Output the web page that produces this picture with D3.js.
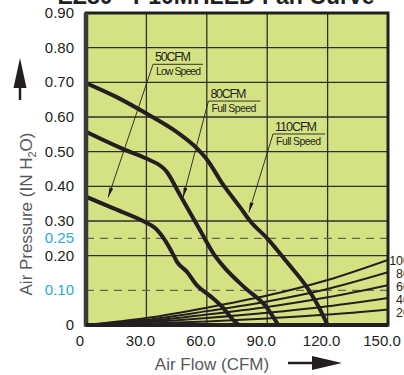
<!DOCTYPE html>
<html><head><meta charset="utf-8">
<script src="https://cdn.jsdelivr.net/npm/d3@7"></script>
<style>
html,body{margin:0;padding:0;background:#fff;overflow:hidden;}
svg{display:block;font-family:"Liberation Sans",Arial,sans-serif;}
</style></head>
<body>
<svg id="chart" width="404" height="375"></svg>
<script>
// ---- data ----
const xTicks = [0, 30, 60, 90, 120, 150];
const xTickLabels = ["0", "30.0", "60.0", "90.0", "120.0", "150.0"];
const yTicks = [0.9, 0.8, 0.7, 0.6, 0.5, 0.4, 0.3, 0.2, 0];
const yTickLabels = ["0.90", "0.80", "0.70", "0.60", "0.50", "0.40", "0.30", "0.20", "0"];
const yDashed = [0.25, 0.10];
const yDashedLabels = ["0.25", "0.10"];

const fan50Cfm = [0, 13.4, 29.3, 34.3, 39.2, 42.7, 45.2, 50.2, 55, 61.6, 68, 73, 76];
const fan50P   = [0.37, 0.337, 0.297, 0.28, 0.245, 0.21, 0.182, 0.153, 0.115, 0.084, 0.05, 0.015, 0];
const fan80Cfm = [0, 19.4, 30, 40, 46.7, 56.6, 64, 69, 79, 89, 95.5];
const fan80P   = [0.557, 0.505, 0.48, 0.443, 0.375, 0.274, 0.2, 0.164, 0.107, 0.056, 0];
const fan110Cfm = [0, 15, 30, 45, 55, 60.5, 67.5, 76.5, 81.5, 90, 100, 109.6, 114.6, 120];
const fan110P   = [0.698, 0.658, 0.61, 0.557, 0.51, 0.474, 0.41, 0.34, 0.30, 0.25, 0.18, 0.11, 0.0625, 0];

const sysCfm = [0, 30, 60, 90, 120, 150];
const sys100 = [0, 0.02, 0.05, 0.085, 0.13, 0.188];
const sys80  = [0, 0.015, 0.04, 0.068, 0.104, 0.152];
const sys60  = [0, 0.011, 0.03, 0.052, 0.08, 0.115];
const sys40  = [0, 0.008, 0.02, 0.035, 0.054, 0.078];
const sys20  = [0, 0.004, 0.01, 0.019, 0.03, 0.045];
const sysLabels = ["100", "80", "60", "40", "20"];

const fanLabels = [
  {name: "50CFM", sub: "Low Speed", cfm: fan50Cfm, p: fan50P},
  {name: "80CFM", sub: "Full Speed", cfm: fan80Cfm, p: fan80P},
  {name: "110CFM", sub: "Full Speed", cfm: fan110Cfm, p: fan110P}
];

// ---- drawing ----
const svg = d3.select("#chart");
const x = d3.scaleLinear().domain([0, 150]).range([86, 388]);
const y = d3.scaleLinear().domain([0, 0.9]).range([325, 13]);
const ink = "#231f20";

const defs = svg.append("defs");
defs.append("clipPath").attr("id", "clip").append("rect")
  .attr("x", x(0)).attr("y", y(0.9)).attr("width", x(150) - x(0)).attr("height", y(0) - y(0.9));
defs.append("marker").attr("id", "arr").attr("viewBox", "0 0 10 4")
  .attr("refX", 10).attr("refY", 2).attr("markerWidth", 10).attr("markerHeight", 4)
  .attr("markerUnits", "userSpaceOnUse").attr("orient", "auto")
  .append("path").attr("d", "M0,0 L10,2 L0,4 Z").attr("fill", ink);

// title (clipped by top edge)
svg.append("text").attr("x", 216).attr("y", 4).attr("text-anchor", "middle")
  .attr("font-size", 23).attr("font-weight", "bold").attr("fill", ink)
  .text("EZ80 - P10MHLED Fan Curve");

// background
svg.append("rect").attr("x", x(0)).attr("y", y(0.9))
  .attr("width", x(150) - x(0)).attr("height", y(0) - y(0.9)).attr("fill", "#d5e283");

// grid
const g = svg.append("g");
[30, 60, 90, 120].forEach(v => g.append("line").attr("x1", x(v)).attr("x2", x(v))
  .attr("y1", y(0.9)).attr("y2", y(0)).attr("stroke", "#2f2f2a").attr("stroke-width", 1.3));
yTicks.filter(v => v > 0 && v < 0.9).forEach(v => g.append("line").attr("x1", x(0)).attr("x2", x(150))
  .attr("y1", y(v)).attr("y2", y(v)).attr("stroke", "#2f2f2a").attr("stroke-width", 1.3));
yDashed.forEach(v => g.append("line").attr("x1", x(0)).attr("x2", x(150))
  .attr("y1", y(v)).attr("y2", y(v)).attr("stroke", "#666655").attr("stroke-width", 1.4)
  .attr("stroke-dasharray", "8,6"));

// system curves
const line = d3.line().curve(d3.curveMonotoneX);
const plot = svg.append("g").attr("clip-path", "url(#clip)");
[sys100, sys80, sys60, sys40, sys20].forEach(s => {
  plot.append("path").attr("d", line(sysCfm.map((c, i) => [x(c), y(s[i])])))
    .attr("fill", "none").attr("stroke", ink).attr("stroke-width", 2);
});
// fan curves
fanLabels.forEach(f => {
  plot.append("path").attr("d", line(f.cfm.map((c, i) => [x(c), y(f.p[i])])))
    .attr("fill", "none").attr("stroke", ink).attr("stroke-width", 4);
});

// frame
svg.append("rect").attr("x", x(0)).attr("y", y(0.9))
  .attr("width", x(150) - x(0)).attr("height", y(0) - y(0.9))
  .attr("fill", "none").attr("stroke", ink).attr("stroke-width", 3);
svg.append("line").attr("x1", x(0)).attr("x2", x(0)).attr("y1", y(0.9)).attr("y2", y(0) + 1.5)
  .attr("stroke", "#3a3a3a").attr("stroke-width", 4.5);
svg.append("line").attr("x1", x(0)).attr("x2", x(150)).attr("y1", y(0)).attr("y2", y(0))
  .attr("stroke", ink).attr("stroke-width", 4);

// annotations: label position in data coords, arrow target on curve
const annot = [
  {lx: 33.3, ly: 0.752, tx: 11, ty: 0.368},
  {lx: 60.8, ly: 0.646, tx: 48.2, ty: 0.368},
  {lx: 92.9, ly: 0.551, tx: 80.9, ty: 0.325}
];
fanLabels.forEach((f, i) => {
  const a = annot[i];
  const lx = x(a.lx), ly = y(a.ly);
  const ww = f.sub === "Low Speed" ? 50 : 52;
  svg.append("line").attr("x1", lx).attr("x2", lx + ww).attr("y1", ly).attr("y2", ly)
    .attr("stroke", ink).attr("stroke-width", 0.9);
  svg.append("line").attr("x1", lx).attr("y1", ly).attr("x2", x(a.tx)).attr("y2", y(a.ty))
    .attr("stroke", ink).attr("stroke-width", 0.9).attr("marker-end", "url(#arr)");
  svg.append("text").attr("x", lx + 2).attr("y", ly - 3).attr("font-size", 12.5)
    .attr("fill", ink).attr("textLength", f.name.length > 5 ? 42 : 36).text(f.name);
  svg.append("text").attr("x", lx + 3).attr("y", ly + 11).attr("font-size", 10.5)
    .attr("fill", ink).attr("textLength", 45).text(f.sub);
});

// system curve labels (cut by the right edge, as in the original), spaced at least 13px
let prevY = -Infinity;
[sys100, sys80, sys60, sys40, sys20].forEach((s, i) => {
  let ly = Math.max(y(s[s.length - 1]) + 5, prevY + 13);
  prevY = ly;
  svg.append("text").attr("x", 410).attr("y", ly)
    .attr("text-anchor", "end").attr("font-size", 12.5).attr("fill", ink).text(sysLabels[i]);
});

// y tick labels
yTicks.forEach((v, i) => svg.append("text").attr("x", 74).attr("y", y(v) + 5)
  .attr("text-anchor", "end").attr("font-size", 15).attr("fill", ink).text(yTickLabels[i]));
yDashed.forEach((v, i) => svg.append("text").attr("x", 74).attr("y", y(v) + 5)
  .attr("text-anchor", "end").attr("font-size", 15).attr("fill", "#29a9e0").text(yDashedLabels[i]));

// x tick labels
xTicks.forEach((v, i) => svg.append("text").attr("x", x(v) - 6).attr("y", 346)
  .attr("text-anchor", "middle").attr("font-size", 15).attr("fill", ink).text(xTickLabels[i]));

// axis titles
svg.append("text").attr("x", 212).attr("y", 370).attr("text-anchor", "middle")
  .attr("font-size", 17).attr("fill", "#58595b").text("Air Flow (CFM)");
svg.append("line").attr("x1", 288).attr("x2", 318).attr("y1", 363).attr("y2", 363)
  .attr("stroke", ink).attr("stroke-width", 2.5);
svg.append("path").attr("d", "M312,356 L342,363 L312,370 Z").attr("fill", ink);

const yt = svg.append("text").attr("transform", "translate(32,214) rotate(-90)")
  .attr("text-anchor", "middle").attr("font-size", 17).attr("fill", "#58595b");
yt.append("tspan").text("Air Pressure (IN H");
yt.append("tspan").attr("font-size", 11).attr("dy", 4).text("2");
yt.append("tspan").attr("dy", -4).text("O)");
svg.append("line").attr("x1", 20).attr("x2", 20).attr("y1", 100).attr("y2", 80)
  .attr("stroke", ink).attr("stroke-width", 2.5);
svg.append("path").attr("d", "M13.5,88 L20,58 L26.5,88 Z").attr("fill", ink);
</script>
</body></html>
